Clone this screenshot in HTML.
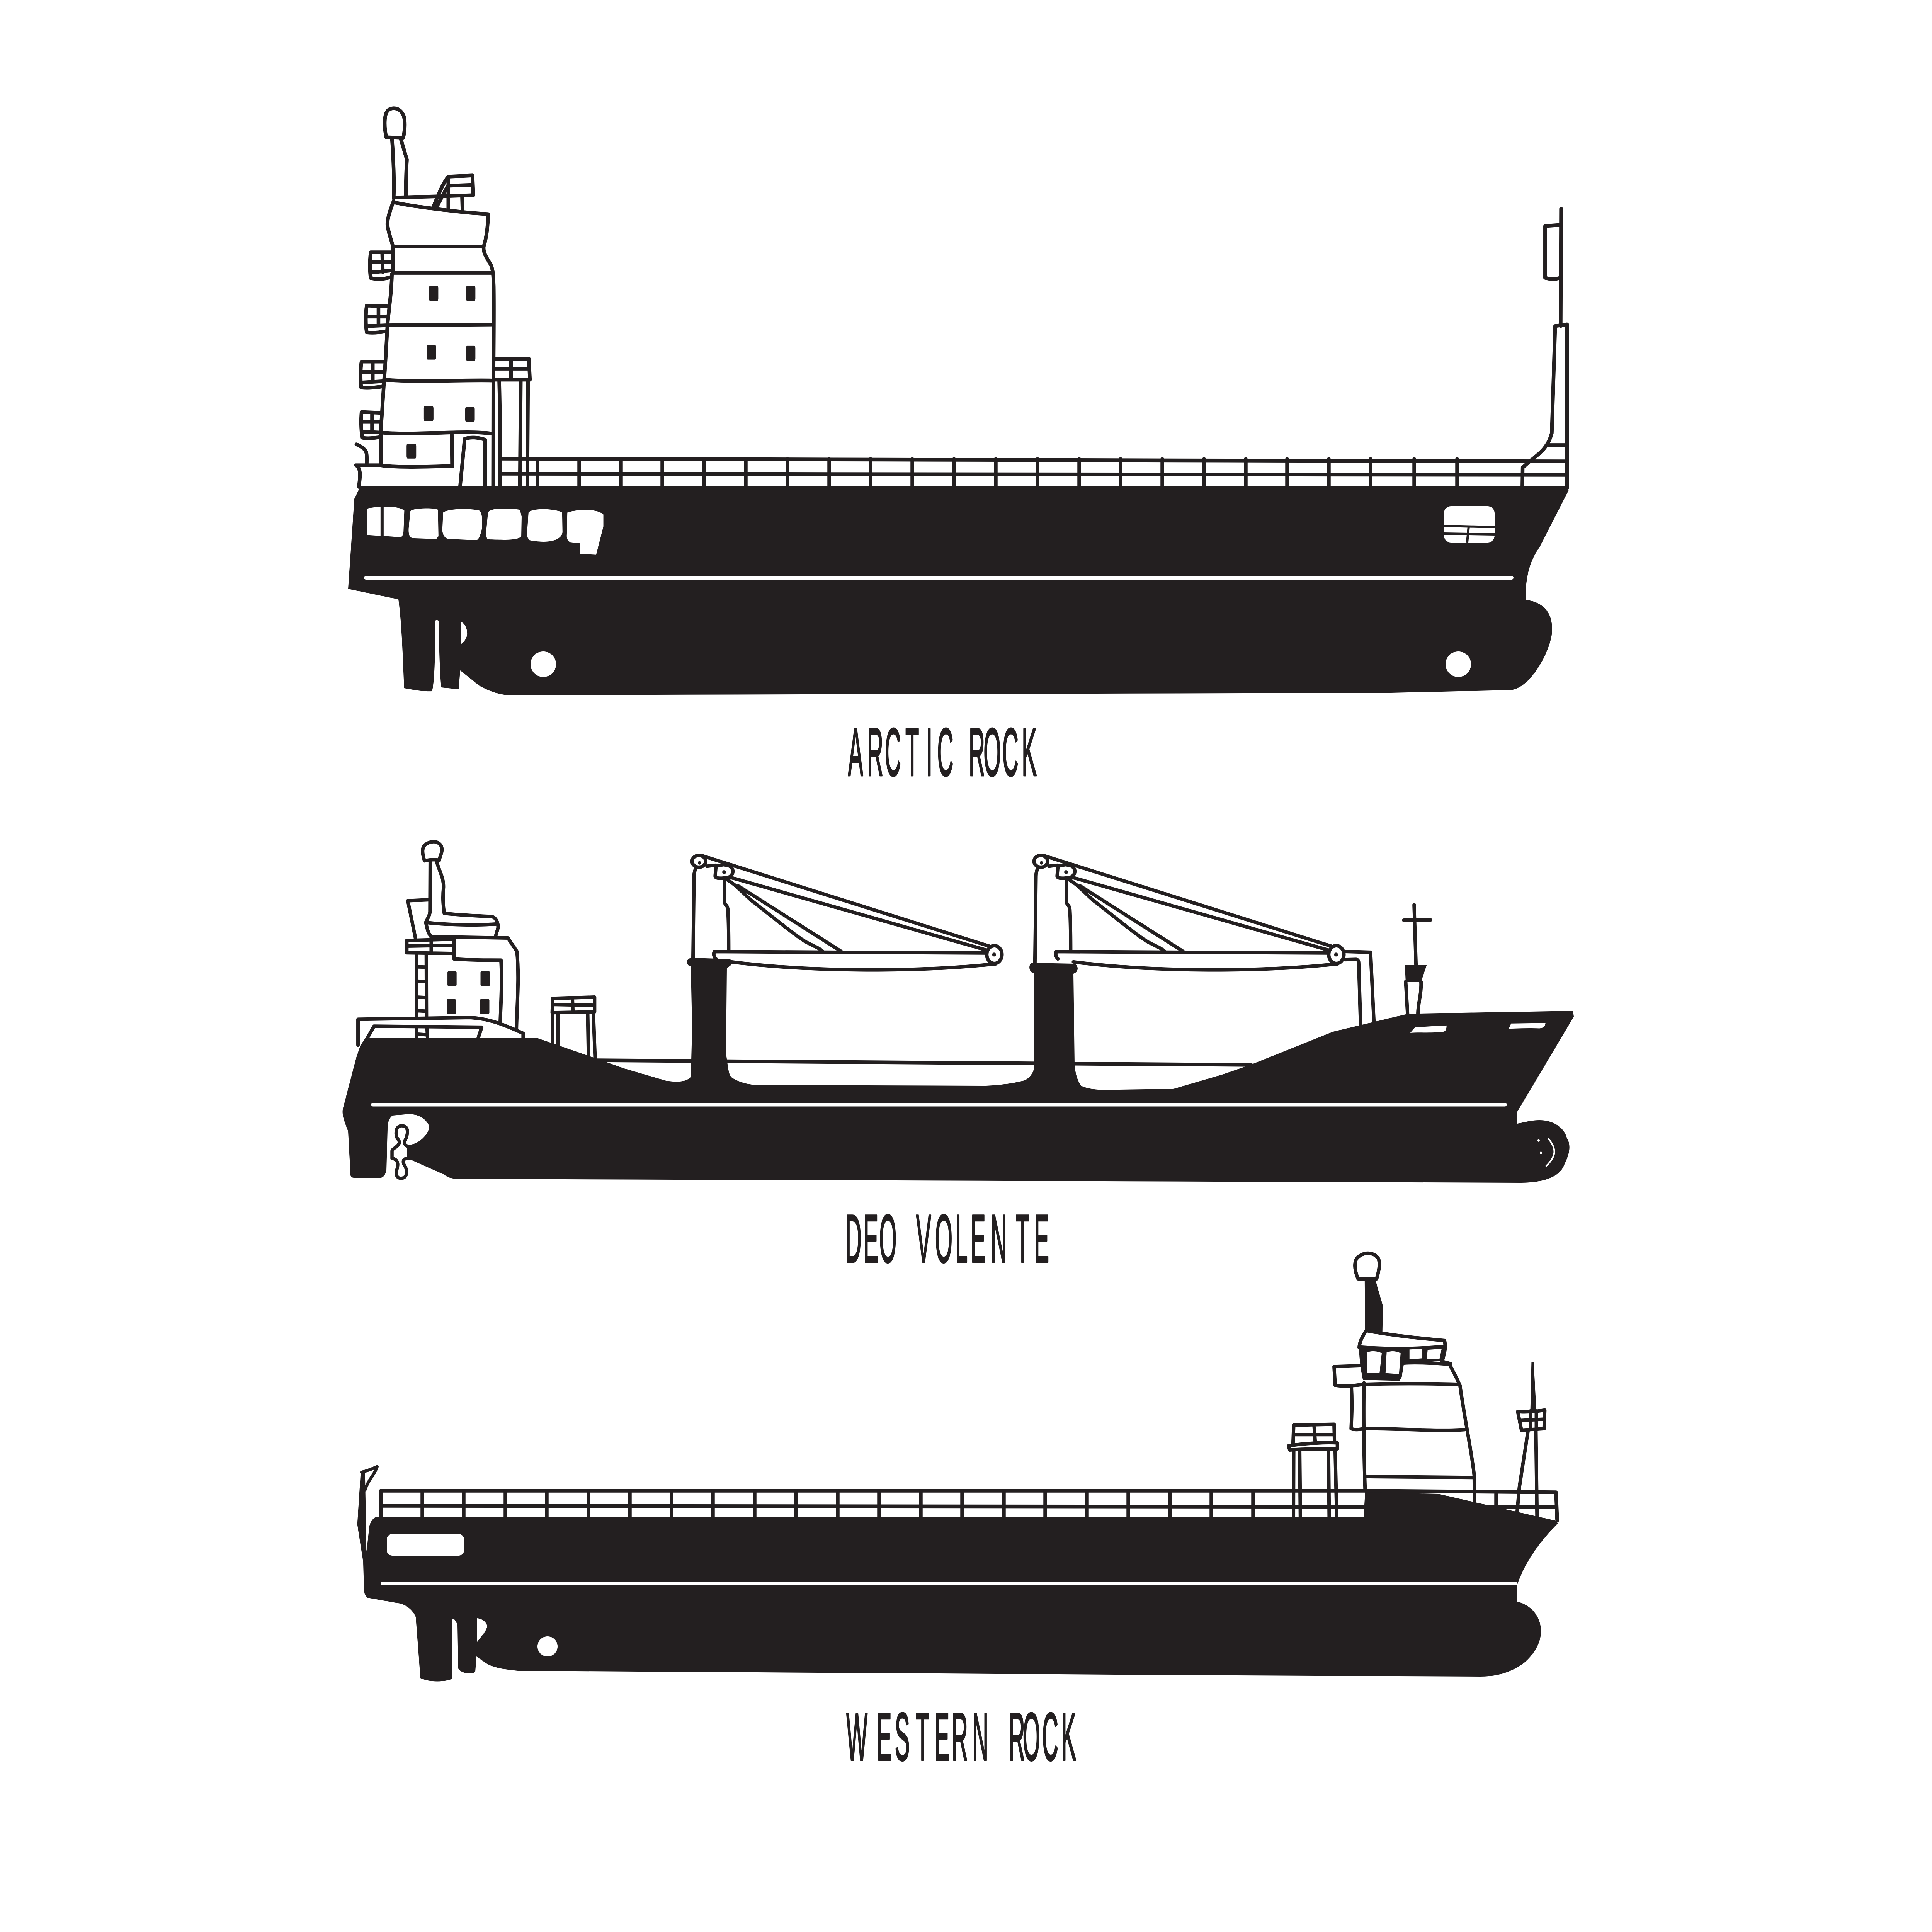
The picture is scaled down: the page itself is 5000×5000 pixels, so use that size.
<!DOCTYPE html>
<html><head><meta charset="utf-8"><title>Ships</title>
<style>
html,body{margin:0;padding:0;background:#fff}
svg{display:block}
svg *{vector-effect:non-scaling-stroke}
.l{fill:none;stroke:#231f20;stroke-width:9.5;stroke-linejoin:round;stroke-linecap:round}
.k{fill:#231f20;stroke:none}
.w{fill:#fff;stroke:none}
.t{font-family:"Liberation Sans",sans-serif;font-size:175px;fill:#231f20;stroke:#231f20;stroke-width:3.5px;stroke-linejoin:round}
</style></head><body>
<svg xmlns="http://www.w3.org/2000/svg" width="5000" height="5000" viewBox="0 0 5000 5000">
<rect width="5000" height="5000" fill="#fff"/>

<!-- ===== SHIP 1: ARCTIC ROCK ===== -->
<g class="l">
<path d="M1295 1187L4050 1194M1295 1226L4050 1229"/>
<path d="M1391 1188V1258M1499 1188V1258M1607 1188V1258M1714 1188V1258M1822 1188V1258M1930 1188V1258M2038 1188V1258M2146 1188V1258M2253 1188V1258M2361 1188V1258M2469 1188V1258M2577 1188V1258M2685 1188V1258M2793 1188V1258M2900 1188V1258M3008 1188V1258M3116 1188V1258M3224 1188V1258M3331 1188V1258M3439 1188V1258M3547 1188V1258M3660 1188V1258M3771 1188V1258"/>
</g>
<g class="l" transform="translate(850 250) scale(.4464 1.0204)">
<path d="M335 103C322 75 322 45 345 35C370 25 420 28 437 50C447 65 442 90 433 105Z"/>
<path d="M368 105C378 160 382 220 378 258M420 108L455 160C450 190 449 220 449 250"/>
<path d="M378 256L635 253L840 250L835 200L695 203C670 215 640 245 610 278M625 282L690 228M700 226L825 224M695 205V283M775 255L777 285"/>
<path d="M378 268C500 280 800 295 925 298C925 330 915 360 900 380L375 380"/>
<path d="M378 265C360 285 340 310 342 325C345 340 365 365 373 378L375 447L950 447"/>
<path d="M900 380C895 400 930 415 945 430C955 445 955 450 958 480C960 530 958 660 956 720L955 990"/>
<path d="M368 450C365 500 350 540 342 580C335 640 330 680 323 718L303 852L303 935"/>
<path d="M343 580L950 578M325 718C500 725 800 718 950 720M303 852C500 860 800 845 950 855"/>
<path d="M160 935L300 935C400 942 600 938 720 937M715 855L717 937"/>
<path d="M763 990L790 868C830 862 870 865 908 870L908 990"/>
<path d="M958 665L1162 665L1168 718L958 718M965 690L1155 690M1058 665V718"/>
<path d="M990 720C995 800 997 950 993 990M1115 720L1110 990M1157 720L1153 990"/>
<path d="M160 935C195 945 180 970 177 990"/>
<path d="M162 882C180 885 200 890 215 898C225 905 222 920 222 935"/>
<path d="M365 395L245 395C238 420 240 445 245 460C290 465 330 462 358 458M245 420L365 420M245 446L365 441M312 397L315 445"/>
<path d="M345 532L222 530C215 550 215 580 222 598C260 600 300 598 335 595M228 558L340 558M228 582L335 580M290 532V580"/>
<path d="M320 672L192 672C185 690 185 720 190 738C230 740 270 738 315 735M195 698L318 698M195 725L312 722M257 672V722"/>
<path d="M300 802L192 800C188 820 190 845 195 865C225 868 260 866 295 864M198 825L295 825M200 850L295 852M253 803V850"/>
</g>
<g class="k" transform="translate(850 250) scale(.4464 1.0204)">
<rect x="583" y="480" width="54" height="38" rx="6"/><rect x="798" y="480" width="54" height="38" rx="6"/>
<rect x="570" y="630" width="54" height="37" rx="6"/><rect x="798" y="632" width="54" height="38" rx="6"/>
<rect x="553" y="785" width="56" height="38" rx="6"/><rect x="793" y="787" width="55" height="38" rx="6"/>
<rect x="453" y="880" width="56" height="38" rx="6"/>
</g>
<g class="l" transform="translate(3600 500) scale(.3827 .893)">
<path d="M1150 45L1147 385M1147 92L1042 95L1042 245C1080 250 1110 250 1145 245"/>
<path d="M1110 385L1190 380L1190 855"/>
<path d="M1110 385L1087 695C1060 740 1000 755 930 780L890 795L888 850M1050 730L1180 730"/>
</g>
<path class="k" d="M933 1258L3600 1257L4051 1259L4060 1268L3985 1415C3960 1450 3948 1490 3948 1552C3990 1558 4017 1580 4017 1629C4017 1680 3960 1786 3906 1786L3600 1793L1312 1799C1280 1795 1260 1785 1241 1775L1191 1735L1187 1784L1142 1779C1138 1740 1136 1670 1136 1607C1132 1604 1128 1604 1126 1607C1126 1680 1126 1760 1118 1789C1090 1790 1070 1785 1046 1781C1043 1720 1040 1610 1031 1551L901 1524L917 1291Z"/>
<path class="w" d="M1193 1609C1205 1615 1210 1630 1209 1643C1205 1660 1195 1665 1192 1668Z"/>
<rect class="w" x="942" y="1490" width="2975" height="10" rx="5"/>
<g transform="translate(850 250) scale(.4464 1.0204)">
<path class="w" d="M225 1045C260 1040 400 1035 440 1050L435 1105C430 1115 425 1118 410 1117L225 1112Z"/>
<rect class="k" x="302" y="1035" width="18" height="90"/>
<path class="w" d="M475 1052C480 1043 620 1042 635 1048L638 1115L625 1122L490 1120C470 1118 463 1110 465 1095Z"/>
<path class="w" d="M665 1055C700 1043 840 1045 875 1050C890 1055 893 1070 890 1095C880 1115 870 1125 855 1125L695 1122C675 1120 663 1112 660 1100Z"/>
<path class="w" d="M925 1055C940 1040 1080 1045 1110 1048L1120 1065L1118 1115C1100 1125 1040 1125 925 1123C915 1120 912 1110 915 1100Z"/>
<path class="w" d="M1160 1055C1180 1042 1320 1045 1355 1055L1357 1105C1350 1125 1280 1135 1165 1125L1150 1115Z"/>
<path class="w" d="M1385 1055C1450 1045 1560 1045 1594 1060L1594 1090L1552 1162L1457 1160L1457 1133L1400 1130C1385 1125 1380 1120 1382 1110Z"/>
</g>
<ellipse class="w" cx="1406" cy="1719" rx="33" ry="33"/>
<ellipse class="w" cx="3774" cy="1719" rx="33" ry="33"/>
<rect class="w" x="3737" y="1310" width="131" height="94" rx="18"/>
<path d="M3737 1361L3868 1364M3737 1381L3868 1383M3801 1362L3797 1404" fill="none" stroke="#231f20" stroke-width="6"/>
<text class="t" transform="translate(2188 2007) scale(.33 1)" x="21 170 309 470 633 720 885 967 1083 1230 1383" y="0">ARCTIC ROCK</text>

<!-- ===== SHIP 2: DEO VOLENTE ===== -->
<path class="l" d="M1543 2744L3238 2756"/>
<g class="l" style="stroke-width:9" transform="translate(850 2150) scale(.6378)">
<path d="M390 122C378 85 380 65 395 55C425 35 455 45 460 70C463 90 452 100 450 120C430 115 410 118 390 122Z"/>
<path d="M413 122L412 330C410 345 400 360 395 372"/>
<path d="M438 122C450 165 468 190 467 230C463 270 465 300 470 335C530 342 600 345 660 348C680 350 690 375 688 395C685 405 680 420 678 430"/>
<path d="M395 372C480 382 600 385 685 378M395 372C400 395 405 420 418 430L728 435L765 490C775 600 765 700 763 805"/>
<path d="M408 280L322 284L355 445"/>
<path d="M318 445L510 440V520M318 445V495L505 498M320 468L505 465M417 430V495"/>
<path d="M510 520C570 525 640 525 700 525C705 600 700 700 697 775"/>
<path d="M358 500V755M397 500L398 755M358 552L395 553M358 610L395 612M358 675L395 677M358 730L395 732"/>
<path d="M358 795V838M400 795L402 838M358 825L400 828"/>
<path d="M120 870L120 765L570 758C650 760 720 790 790 822L790 840"/>
<path d="M160 838L185 793L622 797L608 840"/>
<path d="M908 738L910 680L1080 675L1080 735L908 738M912 705L1075 708M990 680L992 735"/>
<path d="M910 740V862M932 740V870M1052 740L1055 915M1075 740L1082 925"/>
</g>
<g class="k" transform="translate(850 2150) scale(.6378)">
<rect x="483" y="570" width="37" height="60" rx="5"/><rect x="617" y="570" width="38" height="60" rx="5"/>
<rect x="480" y="683" width="37" height="60" rx="5"/><rect x="615" y="683" width="38" height="60" rx="5"/>
</g>
<!-- cranes -->
<g id="crane" class="l" style="stroke-width:9" transform="translate(1700 2150) scale(.7015 .5102)">
<ellipse cx="155" cy="155" rx="25" ry="30"/>
<path d="M218 180L215 230C216 242 230 243 262 238C285 225 288 190 262 175L245 172Z"/>
<ellipse cx="1245" cy="628" rx="28" ry="45"/>
<path d="M170 128L1225 585M275 238L1215 605M185 180L215 175"/>
<path d="M133 680L137 230C137 215 140 200 145 185"/>
<path d="M250 245L249 360C250 375 260 375 262 400C265 480 265 550 265 610"/>
<path d="M255 245C290 270 320 320 350 355C430 440 500 520 545 560C570 580 600 595 612 612M300 280L680 612"/>
<path d="M212 613L1215 620M212 613C208 625 210 640 218 650M275 665C550 715 950 720 1250 675"/>
<ellipse class="k" style="fill:#231f20" cx="157" cy="163" rx="6" ry="9"/>
<ellipse class="k" style="fill:#231f20" cx="248" cy="210" rx="7" ry="10"/>
<ellipse class="k" style="fill:#231f20" cx="1244" cy="628" rx="7" ry="10"/>
</g>
<use href="#crane" x="885" y="0"/>
<g class="l" style="stroke-width:9" transform="translate(2600 2150) scale(.9885 .6378)">
<path d="M892 490L958 493L967 780M892 523L920 522C925 522 927 530 927 535L932 795"/>
<path d="M1072 300L1077 545M1045 363L1115 362"/>
<path d="M1050 612L1055 745M1090 612C1092 660 1082 700 1082 745"/>
<path class="k" style="fill:#231f20;stroke:none" d="M1048 545L1105 545L1090 614L1050 614Z"/>
</g>
<path class="k" d="M946 2686L1392 2687L1545 2740L1615 2765L1724 2797C1745 2800 1770 2803 1788 2788L1791 2660L1788 2501C1776 2500 1772 2480 1791 2479L1889 2482C1898 2490 1896 2497 1881 2505L1879 2727C1884 2760 1885 2780 1893 2788C1910 2800 1930 2805 1953 2808L2552 2810C2600 2808 2640 2800 2654 2795C2670 2785 2677 2770 2677 2756L2677 2519C2664 2518 2660 2500 2669 2492L2781 2494C2792 2500 2792 2515 2778 2520L2781 2756C2783 2780 2790 2800 2798 2810C2830 2825 2880 2820 2897 2820L3037 2818L3163 2781L3238 2755L3450 2670L3638 2625L3672 2623L4071 2616L4073 2631L3925 2880L3927 2908C3950 2903 3965 2899 3984 2899C4020 2899 4048 2918 4055 2945C4068 2966 4060 2990 4048 3015C4035 3050 3985 3061 3934 3061L2600 3056L1182 3051C1165 3050 1155 3045 1150 3040L1060 3000L1058 2963C1090 2960 1111 2930 1111 2915C1105 2900 1090 2885 1060 2883L1016 2887C1005 2895 1003 2910 1003 2922L1000 3030C995 3045 990 3048 984 3048L917 3048C910 3048 907 3045 907 3040L901 2928C890 2900 885 2885 887 2871L922 2737L933 2705Z"/>
<rect class="w" x="960" y="2854" width="2940" height="9.5" rx="5"/>
<g transform="translate(2600 2150) scale(.9885 .6378)">
<path class="w" d="M1062 820L1075 797L1157 790C1157 805 1155 812 1150 815C1120 822 1090 817 1062 820Z"/>
<path class="w" d="M1320 803L1326 782L1416 780C1415 795 1410 800 1400 802C1370 800 1345 802 1320 803Z"/>
<ellipse class="w" cx="1398" cy="1257" rx="3" ry="5"/><ellipse class="w" cx="1404" cy="1307" rx="3" ry="5"/>
<path d="M1424 1250C1445 1290 1445 1320 1418 1360" fill="none" stroke="#fff" stroke-width="4" stroke-linecap="round"/>
</g>
<g transform="translate(850 2150) scale(.6378)">
<path d="M297 1197C275 1197 270 1225 278 1245C285 1258 295 1262 280 1278C270 1288 258 1292 258 1300L258 1330C275 1330 285 1345 280 1365C275 1385 270 1410 295 1410C320 1410 322 1380 310 1360C300 1345 300 1328 325 1330L325 1280C310 1280 305 1265 312 1255C325 1225 325 1197 297 1197Z" fill="#fff" stroke="#231f20" stroke-width="8.5" stroke-linejoin="round"/>
</g>
<text class="t" transform="translate(2188 3266) scale(.33 1)" x="0 141 265 455 555 703 861 982 1139 1336 1480" y="0">DEO VOLENTE</text>

<!-- ===== SHIP 3: WESTERN ROCK ===== -->
<g class="l">
<path d="M986 3926V3858L3529 3858L4027 3862L4030 3935M986 3897L4027 3900"/>
<path d="M1093 3858V3928M1200 3858V3928M1308 3858V3928M1415 3858V3928M1523 3858V3928M1630 3858V3928M1738 3858V3928M1845 3858V3928M1953 3858V3928M2060 3858V3928M2168 3858V3928M2275 3858V3928M2383 3858V3928M2490 3858V3928M2598 3858V3928M2705 3858V3928M2813 3858V3928M2920 3858V3928M3028 3858V3928M3135 3858V3928M3243 3858V3928M3872 3866V3900"/>
</g>
<g class="l" style="stroke-width:9" transform="translate(3200 3200) scale(.574 .7653)">
<path d="M548 143C530 110 530 85 545 72C575 50 620 52 640 75C650 95 640 120 632 143Z"/>
<path class="k" style="fill:#231f20;stroke:none" d="M578 143L628 148C635 175 650 205 660 235L658 322L580 318Z"/>
<path d="M585 318C700 335 840 345 938 352C945 375 938 395 928 420M585 318C570 335 555 355 553 375"/>
<path class="k" style="fill:#231f20;stroke:none" d="M555 368C680 375 800 375 938 366L928 420L755 430L745 475L735 488L570 485C560 450 553 410 553 375Z"/>
<path d="M755 428C800 425 900 428 960 432C980 460 1000 490 1008 505C1025 600 1065 750 1072 810L1073 898M925 422L965 430"/>
<path d="M440 440L562 437M440 440L445 503C480 508 530 505 570 500M570 500C700 497 850 497 1005 500"/>
<path d="M575 495C572 600 575 750 580 860M518 505C522 560 520 600 517 650C535 655 555 653 570 650M570 650C700 648 900 660 1030 653"/>
<path d="M580 812L1065 815"/>
<path d="M255 700L258 638L440 635L442 695M262 670L438 670M350 640L355 695"/>
<path d="M235 708C300 700 400 695 455 698L455 718C400 718 300 718 240 722Z"/>
<path d="M258 725L257 952M285 725L288 952M415 725L418 950M445 725L452 950"/>
<path class="k" style="fill:#231f20;stroke:none" d="M1330 425L1340 425L1352 590L1325 590Z"/>
<path d="M1268 592C1300 595 1350 592 1390 587L1387 650L1285 655ZM1282 622L1380 618M1325 590V650M1352 590V650"/>
<path d="M1315 655L1275 850L1265 935M1350 655L1355 945"/>
</g>
<g transform="translate(3200 3200) scale(.574 .7653)">
<path class="w" d="M587 392C610 385 640 388 655 395L645 462L590 462Z"/>
<path class="w" d="M677 392C700 385 725 388 740 395L733 465L672 462Z"/>
<path class="w" d="M780 382L838 380L838 412L780 415Z"/>
<path class="w" d="M862 383L925 380L915 415L858 415Z"/>
</g>
<path class="k" d="M976 3926L3529 3927L3533 3862L3722 3866L4024 3935L4032 3942C3990 3985 3950 4035 3927 4100L3927 4145C3965 4155 3988 4185 3988 4222C3988 4260 3960 4290 3946 4302C3910 4330 3870 4339 3831 4339L3200 4336L1340 4324C1300 4320 1275 4315 1259 4305L1233 4287L1230 4326C1225 4332 1215 4330 1210 4330C1200 4330 1190 4325 1186 4318L1184 4206C1180 4195 1176 4190 1173 4190C1170 4190 1169 4195 1169 4202L1170 4345C1150 4353 1115 4355 1088 4343L1076 4185C1070 4170 1055 4155 1036 4150L951 4135C945 4130 942 4120 942 4115L940 4044L949 4011L956 3949C960 3935 968 3926 976 3926Z"/>
<g transform="translate(880 3750) scale(.4464 .4145)">
<path class="k" d="M120 145L145 150L153 640L135 710L100 470Z"/>
<path d="M125 145C160 135 190 122 215 110C200 160 160 200 145 255" fill="none" stroke="#231f20" stroke-width="8" stroke-linejoin="round" stroke-linecap="round"/>
</g>
<path class="w" d="M1235 4188C1250 4190 1258 4198 1261 4208C1258 4225 1240 4240 1234 4251Z"/>
<rect class="w" x="985" y="4093" width="2941" height="10" rx="5"/>
<rect class="w" x="1001" y="3970" width="200" height="56" rx="14"/>
<ellipse class="w" cx="1417" cy="4261" rx="26" ry="26"/>
<text class="t" transform="translate(2169 4555) scale(.33 1)" x="65 303 445 609 756 891 1052 1273 1339 1448 1600 1750" y="0">WESTERN ROCK</text>
</svg>
</body></html>
